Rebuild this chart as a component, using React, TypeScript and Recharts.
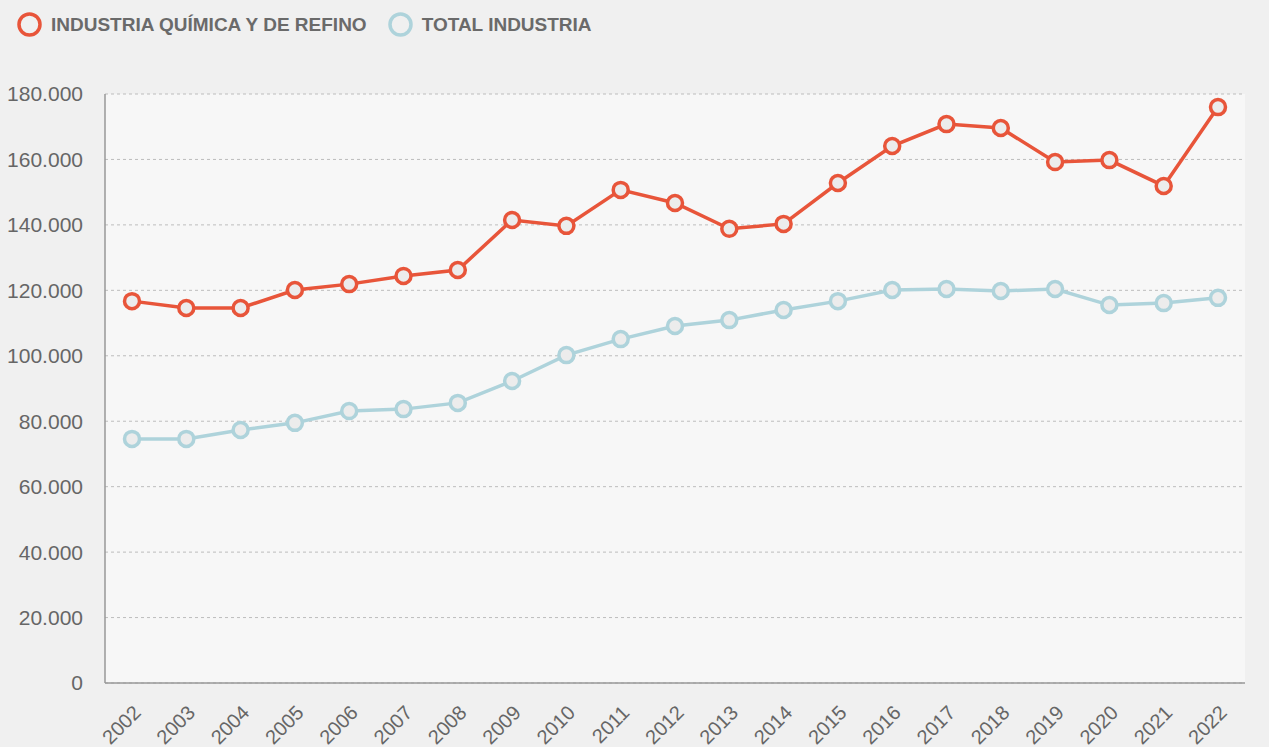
import { CartesianGrid, Line, LineChart, XAxis, YAxis } from "recharts";

const years = [
  "2002", "2003", "2004", "2005", "2006", "2007", "2008", "2009", "2010", "2011", "2012",
  "2013", "2014", "2015", "2016", "2017", "2018", "2019", "2020", "2021", "2022",
];
const quimica = [
  116700, 114600, 114600, 120100, 121900, 124400, 126200, 141500, 139700, 150700, 146700,
  138800, 140300, 152800, 164100, 170800, 169600, 159200, 159800, 151900, 176000,
];
const total = [
  74600, 74600, 77300, 79500, 83100, 83700, 85600, 92300, 100200, 105100, 109100,
  110900, 114000, 116700, 120100, 120400, 119800, 120400, 115500, 116100, 117700,
];
const yTicks = [0, 20000, 40000, 60000, 80000, 100000, 120000, 140000, 160000, 180000];
const legendItems = ["INDUSTRIA QUÍMICA Y DE REFINO", "TOTAL INDUSTRIA"];

const RED = "#e8553a";
const BLUE = "#aed3db";
const FONT = "'Liberation Sans', Arial, sans-serif";

const data = years.map((y, i) => ({ year: y, quimica: quimica[i], total: total[i] }));

const fmt = (v: number) => (v === 0 ? "0" : v.toLocaleString("de-DE"));

function XTick({ x, y, payload }: any) {
  return (
    <text
      transform={`translate(${x + 10},${y + 29}) rotate(-45)`}
      textAnchor="end"
      fontSize={20}
      fill="#666"
      fontFamily={FONT}
    >
      {payload.value}
    </text>
  );
}

function LegendBox() {
  const colors = [RED, BLUE];
  return (
    <div
      style={{
        position: "absolute",
        top: 11,
        left: 16,
        display: "flex",
        alignItems: "center",
        fontFamily: FONT,
      }}
    >
      {legendItems.map((label, i) => (
        <div key={label} style={{ display: "flex", alignItems: "center", marginRight: 20 }}>
          <svg width={27} height={27} style={{ marginRight: 8 }}>
            <circle cx={13.5} cy={13.5} r={10.5} fill="#f0f0f0" stroke={colors[i]} strokeWidth={3.5} />
          </svg>
          <span style={{ fontSize: 19, color: "#6a6a6a", fontWeight: 700 }}>{label}</span>
        </div>
      ))}
    </div>
  );
}

export default function App() {
  return (
    <div
      style={{
        position: "absolute",
        left: 0,
        top: 0,
        width: 1269,
        height: 747,
        background: "#f0f0f0",
        overflow: "hidden",
      }}
    >
      <LegendBox />
      <LineChart
        width={1269}
        height={747}
        data={data}
        margin={{ top: 94, right: 24, bottom: 0, left: 0 }}
      >
        <CartesianGrid
          horizontal
          vertical={false}
          stroke="#bdbdbd"
          strokeDasharray="3 3"
          fill="#f7f7f7"
        />
        <XAxis
          dataKey="year"
          height={64}
          padding={{ left: 27, right: 27 }}
          tickLine={false}
          tickSize={0}
          axisLine={{ stroke: "#999", strokeWidth: 1.5 }}
          interval={0}
          tick={<XTick />}
        />
        <YAxis
          width={105}
          domain={[0, 180000]}
          ticks={yTicks}
          tickFormatter={fmt}
          tickLine={false}
          tickSize={0}
          tickMargin={22}
          axisLine={{ stroke: "#999", strokeWidth: 1.5 }}
          tick={{ fontSize: 21, fill: "#666", fontFamily: FONT }}
        />
        <Line
          dataKey="total"
          stroke={BLUE}
          strokeWidth={3.5}
          dot={{ r: 7.5, fill: "#ececec", stroke: BLUE, strokeWidth: 3.5 }}
          isAnimationActive={false}
        />
        <Line
          dataKey="quimica"
          stroke={RED}
          strokeWidth={3.5}
          dot={{ r: 7.5, fill: "#ececec", stroke: RED, strokeWidth: 3.5 }}
          isAnimationActive={false}
        />
      </LineChart>
    </div>
  );
}
